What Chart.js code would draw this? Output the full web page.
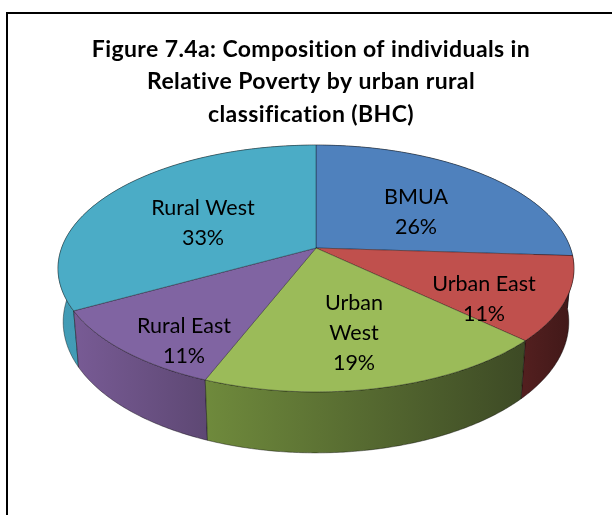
<!DOCTYPE html>
<html>
<head>
<meta charset="utf-8">
<style>html,body{margin:0;padding:0;background:#fff}canvas{display:block;filter:blur(0.4px)}</style>
<script src="https://cdn.jsdelivr.net/npm/chart.js@4"></script>
</head>
<body>
<canvas id="c" width="612" height="515"></canvas>
<script>
const categories = ["BMUA", "Urban East", "Urban West", "Rural East", "Rural West"];
const shareValues = [26, 11, 19, 11, 33];
const titleLines = ["Figure 7.4a: Composition of individuals in", "Relative Poverty by urban rural", "classification (BHC)"];
const sliceColors = ["#4f81bd", "#c0504d", "#9bbb59", "#8064a2", "#4bacc6"];
const wallLeftColors = ["#2f4f78", "#521f1f", "#6f8a3c", "#785b95", "#429cb6"];
const wallRightColors = ["#2f4f78", "#401818", "#3d4a25", "#5e4874", "#3f94ad"];
const labelLines = [["BMUA", "26%"], ["Urban East", "11%"], ["Urban", "West", "19%"], ["Rural East", "11%"], ["Rural West", "33%"]];
const labelAnchors = [[416, 197], [484, 284], [354, 303], [184, 326], [203, 208]];

const view = {cx: 316, cy: 248, a: 254.4, b: 120, k: 0.166, shrink: 0.98, d0: 52, d1: 9};
function top3d(t) {
  const u = Math.cos(t), v = Math.sin(t), w = 1 - view.k * v;
  return {x: view.cx + view.a * u / w, y: view.cy + view.b * v / w, v};
}
function bottom3d(t) {
  const p = top3d(t);
  return {x: view.cx + (p.x - view.cx) * view.shrink, y: p.y + view.d0 + view.d1 * p.v};
}
function samples(s, e) {
  const n = Math.max(2, Math.ceil((e - s) / 0.01)), out = [];
  for (let i = 0; i <= n; i++) out.push(s + (e - s) * i / n);
  return out;
}
const pie3d = {
  id: "pie3d",
  beforeDraw(chart) {
    const ctx = chart.ctx;
    ctx.save();
    ctx.strokeStyle = "#000";
    ctx.lineWidth = 2;
    ctx.beginPath();
    ctx.moveTo(7, 515); ctx.lineTo(7, 13); ctx.lineTo(612, 13);
    ctx.stroke();
    ctx.restore();
    ctx.letterSpacing = "0.4px";
  },
  beforeDatasetDraw(chart) {
    const ctx = chart.ctx;
    const arcs = chart.getDatasetMeta(0).data;
    const order = arcs.map((a, i) => i).sort((i, j) =>
      Math.sin((arcs[i].startAngle + arcs[i].endAngle) / 2) - Math.sin((arcs[j].startAngle + arcs[j].endAngle) / 2));
    ctx.save();
    ctx.letterSpacing = "0px";
    ctx.lineJoin = "round";
    order.forEach(i => {
      const ts = samples(arcs[i].startAngle, arcs[i].endAngle);
      const tp = ts.map(top3d), bt = ts.map(bottom3d).reverse();
      const xs = tp.map(p => p.x);
      const g = ctx.createLinearGradient(Math.min(...xs), 0, Math.max(...xs), 0);
      g.addColorStop(0, wallLeftColors[i]);
      g.addColorStop(1, wallRightColors[i]);
      ctx.beginPath();
      tp.concat(bt).forEach((p, n) => n ? ctx.lineTo(p.x, p.y) : ctx.moveTo(p.x, p.y));
      ctx.closePath();
      ctx.fillStyle = g;
      ctx.fill();
      ctx.strokeStyle = "rgba(0,0,0,0.4)";
      ctx.lineWidth = 1;
      ctx.stroke();
    });
    arcs.forEach((arc, i) => {
      ctx.beginPath();
      ctx.moveTo(view.cx, view.cy);
      samples(arc.startAngle, arc.endAngle).map(top3d).forEach(p => ctx.lineTo(p.x, p.y));
      ctx.closePath();
      ctx.fillStyle = arc.options.backgroundColor;
      ctx.fill();
      ctx.strokeStyle = "rgba(0,0,0,0.33)";
      ctx.lineWidth = 1;
      ctx.stroke();
    });
    ctx.fillStyle = "#000";
    ctx.font = "21.5px Lato";
    ctx.textAlign = "center";
    ctx.textBaseline = "middle";
    labelLines.forEach((lines, i) => lines.forEach((s, n) =>
      ctx.fillText(s, labelAnchors[i][0], labelAnchors[i][1] + n * 30)));
    ctx.restore();
    return false;
  }
};
new Chart(document.getElementById("c"), {
  type: "pie",
  data: {labels: categories, datasets: [{data: shareValues, backgroundColor: sliceColors}]},
  plugins: [pie3d],
  options: {
    responsive: false,
    animation: false,
    layout: {padding: {left: 10, top: 33}},
    plugins: {
      legend: {display: false},
      tooltip: {enabled: false},
      title: {
        display: true,
        text: titleLines,
        color: "#000",
        font: {family: "Lato", size: 23, weight: "bold", lineHeight: 1.42},
        padding: 0
      }
    }
  }
});
</script>
</body>
</html>
